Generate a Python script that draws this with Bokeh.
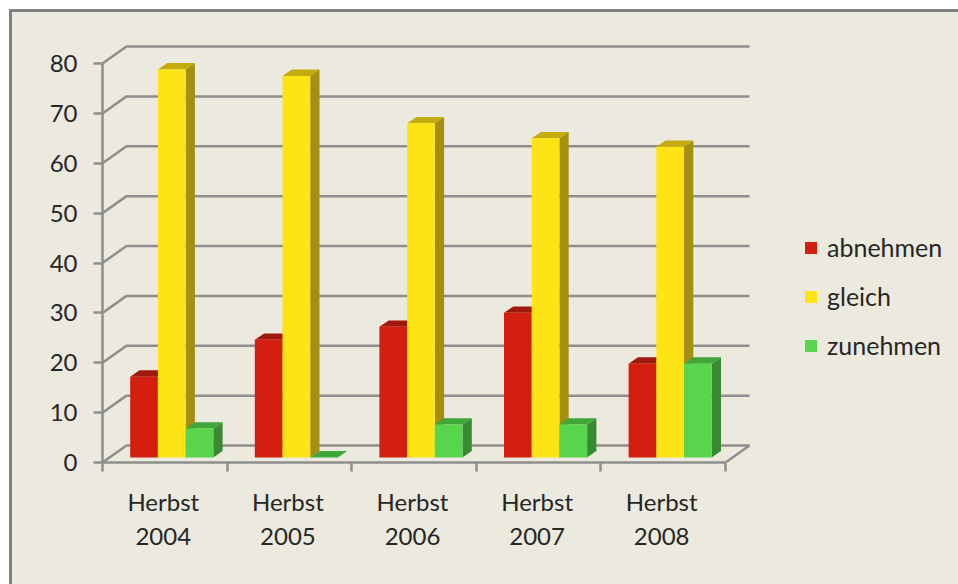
from bokeh.plotting import figure
from bokeh.models import (FixedTicker, Legend, LegendItem, Range1d)
from bokeh.embed import file_html
from bokeh.resources import INLINE

categories = ["Herbst\n2004", "Herbst\n2005", "Herbst\n2006", "Herbst\n2007", "Herbst\n2008"]
abnehmen = [16.2, 23.6, 26.2, 29.0, 18.8]
gleich = [77.8, 76.5, 67.0, 64.0, 62.3]
zunehmen = [5.8, 0.0, 6.6, 6.6, 18.8]
y_ticks = [0, 10, 20, 30, 40, 50, 60, 70, 80]

BG = "#ECEADF"
GRID = "#8E8E8E"
TEXT = "#262626"
FONT = "Lato"
FS = "24px"

W, H = 949, 575
LEFT, BOTTOM = 90, 125
PX_X = 124.6          # pixels per category
PX_Y = 4.9875         # pixels per value unit

n = len(categories)
p = figure(width=W, height=H, output_backend="svg", toolbar_location=None,
           min_border_left=LEFT, min_border_bottom=BOTTOM, min_border_top=0, min_border_right=0,
           x_range=Range1d(0, (W - LEFT) / PX_X), y_range=Range1d(0, (H - BOTTOM) / PX_Y),
           background_fill_color=None, border_fill_color=BG, outline_line_color=None,
           margin=(9, 0, 0, 9))
p.styles = {"border-left": "3px solid #808080", "border-top": "3px solid #808080",
            "background-color": BG}
p.grid.visible = False

# depth of the floor and of each bar, in data units
DX, DY = 24 / PX_X, 17 / PX_Y
BX, BY = 9.3 / PX_X, 6.4 / PX_Y
BAR = 27.7 / PX_X
BASE = 5 / PX_Y

# back wall + floor
xs, ys = [], []
for t in y_ticks:
    xs.append([0, DX, n + DX])
    ys.append([t, t + DY, t + DY])
xs.append([n, n + DX])
ys.append([0, DY])
p.multi_line(xs, ys, line_color=GRID, line_width=2.5)

series = [
    ("abnehmen", abnehmen, "#D21F0F", "#A0190C", "#A0190C"),
    ("gleich", gleich, "#FEE415", "#C4AC0E", "#A58F10"),
    ("zunehmen", zunehmen, "#58D54C", "#3FA63A", "#398A32"),
]
items = []
for j, (name, vals, front, top, side) in enumerate(series):
    lefts = [i + BAR + j * BAR for i in range(n)]
    rights = [l + BAR for l in lefts]
    tops = [v + BASE for v in vals]
    p.patches([[r, r + BX, r + BX, r] for r in rights],
              [[BASE, BASE + BY, v + BY, v] for v in tops],
              fill_color=side, line_color=None)
    p.patches([[l, l + BX, r + BX, r] for l, r in zip(lefts, rights)],
              [[v, v + BY, v + BY, v] for v in tops],
              fill_color=top, line_color=None)
    r = p.quad(left=lefts, right=rights, bottom=[BASE] * n, top=tops, fill_color=front, line_color=None)
    items.append(LegendItem(label=name, renderers=[r]))

legend = Legend(items=items, location=(701, 102), orientation="vertical",
                background_fill_alpha=0, border_line_color=None,
                glyph_width=15, glyph_height=15, label_standoff=9, spacing=19, padding=0, margin=0,
                label_text_font=FONT, label_text_font_size="25px", label_text_color=TEXT, label_height=30)
p.add_layout(legend, "center")

# axes
ya = p.yaxis[0]
ya.ticker = FixedTicker(ticks=y_ticks)
ya.bounds = (0, 80)
ya.axis_line_color = GRID
ya.axis_line_width = 2.5
ya.major_tick_line_color = GRID
ya.major_tick_line_width = 2.5
ya.major_tick_out = 9
ya.major_tick_in = 0
ya.minor_tick_line_color = None
ya.major_label_standoff = 16
ya.major_label_text_font = FONT
ya.major_label_text_font_size = FS
ya.major_label_text_color = TEXT

xa = p.xaxis[0]
label_pos = [i + 0.5 - 1.5 / PX_X for i in range(n)]
xa.ticker = FixedTicker(ticks=label_pos, minor_ticks=list(range(n + 1)))
xa.bounds = (0, n)
xa.major_label_overrides = dict(zip(label_pos, categories))
xa.axis_line_color = GRID
xa.axis_line_width = 2.5
xa.major_tick_line_color = None
xa.major_tick_out = 0
xa.major_tick_in = 0
xa.minor_tick_line_color = GRID
xa.minor_tick_line_width = 2.5
xa.minor_tick_out = 9
xa.minor_tick_in = 0
xa.major_label_standoff = 15
xa.major_label_text_font = FONT
xa.major_label_text_font_size = FS
xa.major_label_text_color = TEXT

open("out.html", "w").write(file_html(p, INLINE))
